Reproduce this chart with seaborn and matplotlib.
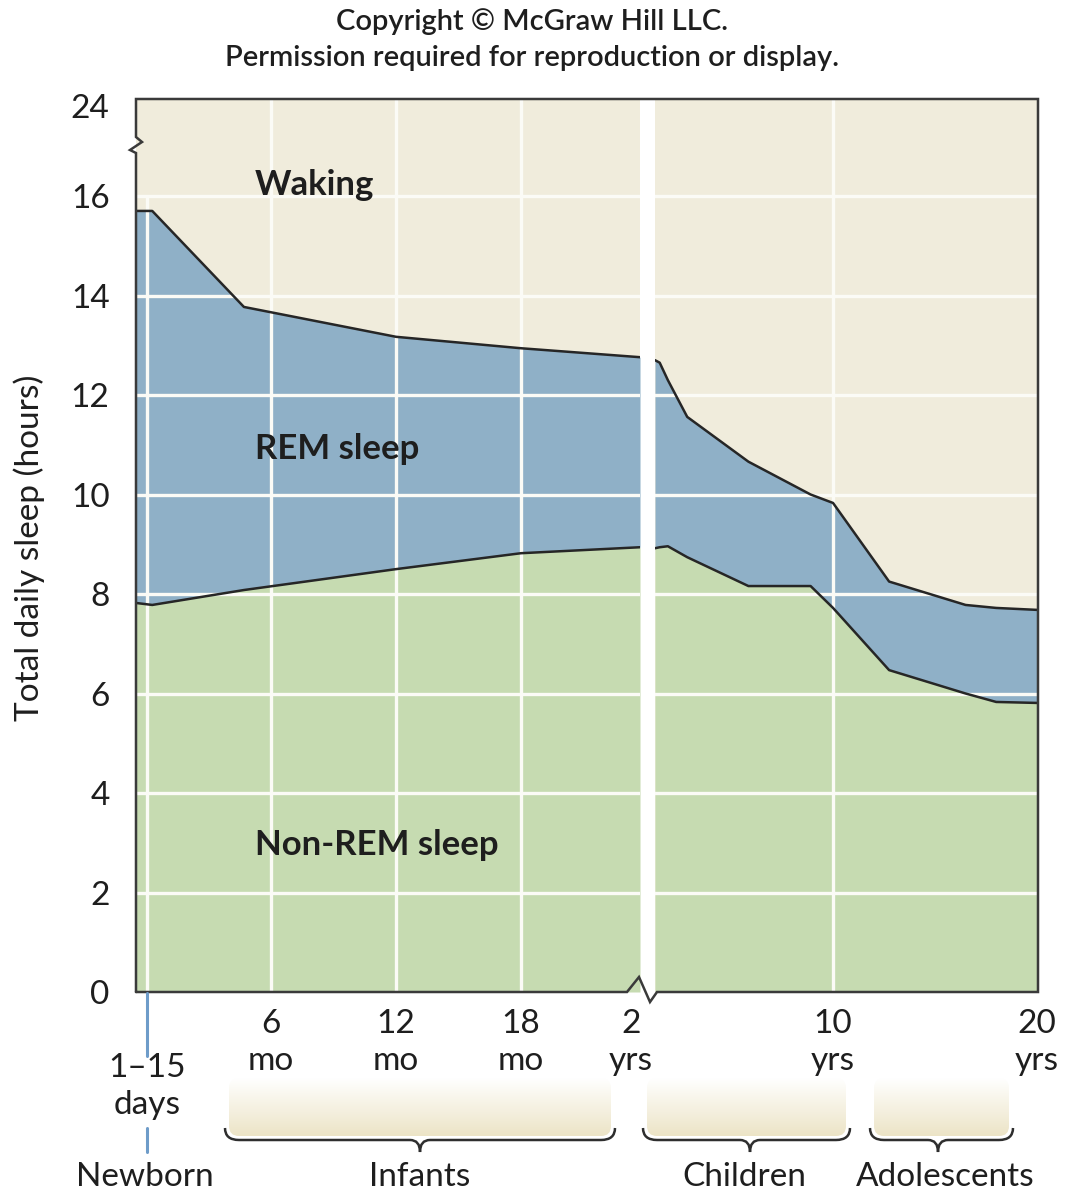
import numpy as np
import pandas as pd
import matplotlib
matplotlib.use("Agg")
import matplotlib.pyplot as plt
import seaborn as sns
from matplotlib.path import Path
from matplotlib.patches import PathPatch, FancyBboxPatch

# ---------------- data ----------------
infant_age_months = [-0.48, 0.3, 4.7, 12, 18, 23.71]
infant_total_sleep = [15.7, 15.7, 13.77, 13.17, 12.94, 12.76]
infant_nrem_sleep = [7.82, 7.78, 8.08, 8.5, 8.82, 8.94]

child_age_years = [1.27, 1.5, 1.9, 2.85, 5.85, 8.9, 10, 12.75, 16.5, 18, 20.05]
child_total_sleep = [12.7, 12.65, 12.3, 11.56, 10.66, 10.0, 9.83, 8.25, 7.78, 7.72, 7.68]
child_nrem_sleep = [8.92, 8.94, 8.96, 8.74, 8.16, 8.16, 7.72, 6.47, 6.0, 5.83, 5.81]

y_ticks = [0, 2, 4, 6, 8, 10, 12, 14, 16, 17.8]
y_tick_labels = ["0", "2", "4", "6", "8", "10", "12", "14", "16", "24"]
infant_ticks = [6, 12, 18, 23.28]
infant_tick_labels = ["6\nmo", "12\nmo", "18\nmo", "2\nyrs"]
child_ticks = [10, 20]
child_tick_labels = ["10\nyrs", "20\nyrs"]
newborn_age_months = 0.05
stage_labels = ["Newborn", "Infants", "Children", "Adolescents"]
region_labels = ["Waking", "REM sleep", "Non-REM sleep"]
title_lines = ["Copyright © McGraw Hill LLC.",
               "Permission required for reproduction or display."]
y_label = "Total daily sleep (hours)"

# ---------------- style ----------------
sns.set_theme(style="white")
plt.rcParams["font.family"] = ["Lato", "DejaVu Sans"]

WAKE = "#f0ecdc"
REM = "#8fb0c7"
NREM = "#c6dbb1"
LINE = "#262626"
FRAME = "#3a3a3a"
GRID = "#fbfbf6"
TXT = "#1e1e1e"
TICK_FS = 24

W, H = 1065, 1200
fig = plt.figure(figsize=(W / 100, H / 100), dpi=100)
fig.patch.set_facecolor("white")

top_px, bot_px = 99, 992
def fig_rect(x0, x1):
    return [x0 / W, 1 - bot_px / H, (x1 - x0) / W, (bot_px - top_px) / H]

ax_l = fig.add_axes(fig_rect(136, 640))
ax_r = fig.add_axes(fig_rect(655, 1038))

infant_df = pd.DataFrame({"age": infant_age_months, "total": infant_total_sleep,
                          "nrem": infant_nrem_sleep})
child_df = pd.DataFrame({"age": child_age_years, "total": child_total_sleep,
                         "nrem": child_nrem_sleep})

for ax, df in [(ax_l, infant_df), (ax_r, child_df)]:
    ax.set_facecolor(WAKE)
    ax.fill_between(df["age"], 0, df["nrem"], color=NREM, lw=0, zorder=1)
    ax.fill_between(df["age"], df["nrem"], df["total"], color=REM, lw=0, zorder=1)
    ax.hlines(y_ticks[1:-1], df["age"].min() - 5, df["age"].max() + 5,
              color=GRID, lw=2.4, zorder=2)
    sns.lineplot(data=df, x="age", y="total", ax=ax, color=LINE, lw=1.8,
                 estimator=None, sort=False, legend=False, zorder=3)
    sns.lineplot(data=df, x="age", y="nrem", ax=ax, color=LINE, lw=1.8,
                 estimator=None, sort=False, legend=False, zorder=3)
    ax.set_ylim(0, 17.95)
    for s in ax.spines.values():
        s.set_visible(False)
    ax.set_xlabel("")
    ax.set_ylabel("")
    ax.grid(False)

ax_l.set_xlim(infant_age_months[0], infant_age_months[-1])
ax_r.set_xlim(child_age_years[0], child_age_years[-1])

# vertical grid lines
ax_l.vlines([6, 12, 18], 0, 17.95, color=GRID, lw=2.4, zorder=2)
ax_l.vlines([newborn_age_months], 0, 16, color=GRID, lw=2.4, zorder=2)
ax_r.vlines([10], 0, 17.95, color=GRID, lw=2.4, zorder=2)

# ticks
ax_l.set_yticks(y_ticks)
ax_l.set_yticklabels(y_tick_labels)
ax_l.tick_params(axis="y", length=0, pad=19, labelsize=TICK_FS, labelcolor=TXT)
ax_r.set_yticks([])
ax_l.set_xticks(infant_ticks)
ax_l.set_xticklabels(infant_tick_labels, linespacing=1.3)
ax_r.set_xticks(child_ticks)
ax_r.set_xticklabels(child_tick_labels, linespacing=1.3)
for ax in (ax_l, ax_r):
    ax.tick_params(axis="x", length=0, pad=12, labelsize=TICK_FS, labelcolor=TXT)

ax_l.set_ylabel(y_label, fontsize=24, color=TXT)
ax_l.yaxis.set_label_coords(-0.18, 0.497)

# region labels
for yv, lab in zip([16.22, 10.91, 2.95], region_labels):
    ax_l.text(5.23, yv, lab, fontsize=25, fontweight="bold", color=TXT,
              va="center", ha="left", zorder=5)

# ---------------- overlay (frame, braces, labels) ----------------
ov = fig.add_axes([0, 0, 1, 1], zorder=10)
ov.set_xlim(0, W)
ov.set_ylim(H, 0)
ov.axis("off")
ov.patch.set_alpha(0)

frame = [(136, 992), (136, 153), (130, 150), (142, 142), (136, 137), (136, 99),
         (1038, 99), (1038, 992), (657, 992), (650, 1002), (639, 977),
         (627, 992), (136, 992)]
fx, fy = zip(*frame)
ov.plot(fx, fy, color=FRAME, lw=1.8, solid_joinstyle="miter")

# newborn marker
ov.plot([147, 147], [993, 1056], color="#6e9cc9", lw=2.2)
ov.plot([147, 147], [1128, 1152], color="#6e9cc9", lw=2.2)
ov.text(147, 1068, "1–15", fontsize=TICK_FS, color=TXT, ha="center", va="center")
ov.text(147, 1105, "days", fontsize=TICK_FS, color=TXT, ha="center", va="center")

# brace groups
grad = np.linspace(0, 1, 100).reshape(-1, 1)
top_c = np.array([1.0, 1.0, 1.0])
bot_c = np.array([236, 228, 198]) / 255
img = top_c[None, None, :] * (1 - grad[:, :, None]) + bot_c[None, None, :] * grad[:, :, None]

def brace(x0, x1, xc):
    yl, yh, yt = 1140, 1128, 1152
    box = FancyBboxPatch((x0 + 4, 1078), (x1 - x0) - 8, 58,
                         boxstyle="round,pad=0,rounding_size=10",
                         transform=ov.transData, facecolor="none", edgecolor="none")
    ov.add_patch(box)
    im = ov.imshow(img, extent=[x0 + 4, x1 - 4, 1136, 1078], aspect="auto", zorder=1)
    im.set_clip_path(box)
    verts = [(x0, yh), (x0, yl), (x0 + 14, yl),
             (xc - 10, yl), (xc, yl), (xc, yt),
             (xc, yl), (xc + 10, yl),
             (x1 - 14, yl), (x1, yl), (x1, yh)]
    codes = [Path.MOVETO, Path.CURVE3, Path.CURVE3,
             Path.LINETO, Path.CURVE3, Path.CURVE3,
             Path.CURVE3, Path.CURVE3,
             Path.LINETO, Path.CURVE3, Path.CURVE3]
    ov.add_patch(PathPatch(Path(verts, codes), facecolor="none", edgecolor="#2e2e2e",
                           lw=1.8, zorder=3))

brace(225, 615, 420)
brace(643, 850, 750)
brace(870, 1013, 938)

for xc, lab in zip([145, 420, 744, 945], stage_labels):
    ov.text(xc, 1177, lab, fontsize=TICK_FS, color=TXT, ha="center", va="center")

ov.text(532, 22, title_lines[0], fontsize=21, fontweight="semibold", color=TXT,
        ha="center", va="center")
ov.text(532, 58, title_lines[1], fontsize=21, fontweight="semibold", color=TXT,
        ha="center", va="center")

fig.savefig("out.png", dpi=100, facecolor="white")
